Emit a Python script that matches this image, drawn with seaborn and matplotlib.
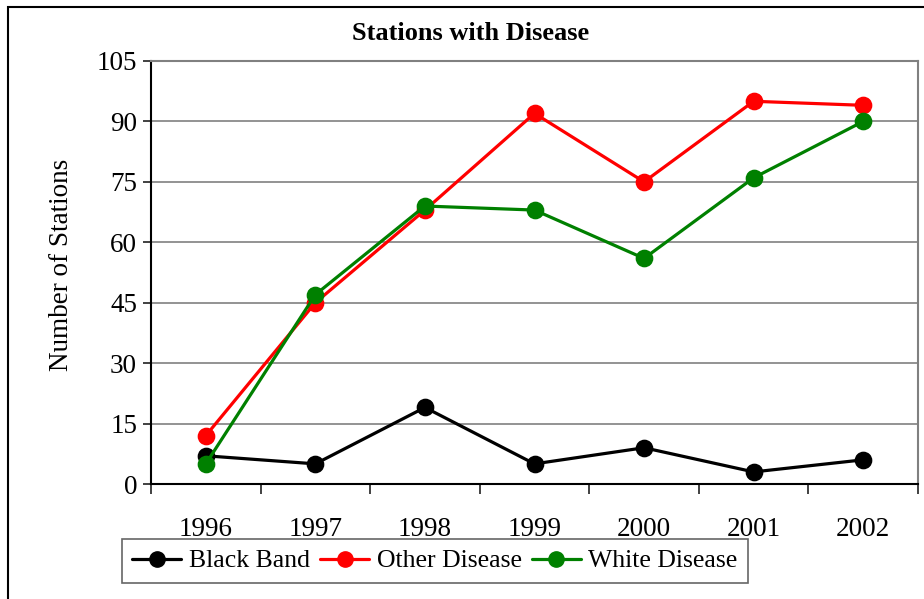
import pandas as pd
import numpy as np
import seaborn as sns
import matplotlib.pyplot as plt
from matplotlib.patches import Rectangle

# dados
anos = ['1996', '1997', '1998', '1999', '2000', '2001', '2002']
black_band = [7, 5, 19, 5, 9, 3, 6]
other_disease = [12, 45, 68, 92, 75, 95, 94]
white_disease = [5, 47, 69, 68, 56, 76, 90]
series = ['Black Band', 'Other Disease', 'White Disease']
cores = ['#000000', '#FF0000', '#008000']

df = pd.DataFrame({
    'Ano': anos * 3,
    'Estacoes': black_band + other_disease + white_disease,
    'Serie': [s for s in series for _ in anos],
})

sns.set_style('white')
plt.rcParams['font.family'] = ['Liberation Serif', 'DejaVu Serif']
plt.rcParams['text.color'] = 'black'
plt.rcParams['xtick.labelcolor'] = 'black'
plt.rcParams['ytick.labelcolor'] = 'black'

fig = plt.figure(figsize=(9.24, 5.99), dpi=100)
ax = fig.add_axes([151 / 924, 1 - 484 / 599, (918 - 151) / 924, (484 - 61) / 599])

sns.pointplot(data=df, x='Ano', y='Estacoes', hue='Serie', order=anos,
              hue_order=series, palette=cores, markers='o',
              markersize=11, linewidth=2.3, ax=ax, legend=False)

ax.set_xlim(-0.5, 6.5)
ax.set_ylim(0, 105)
ax.set_yticks(np.arange(0, 106, 15))
ax.yaxis.grid(True, color='#808080', linewidth=1.2)
ax.set_axisbelow(True)
ax.set_xlabel('')
ax.set_ylabel('')

ax.set_xticks(range(len(anos)))
ax.set_xticklabels(anos)
ax.set_xticks(np.arange(-0.5, 7, 1), minor=True)
ax.tick_params(axis='x', which='major', bottom=True, length=0, pad=24,
               labelsize=19.5, labelcolor='black')
ax.tick_params(axis='x', which='minor', bottom=True, length=7, width=1.3,
               direction='out', color='#333333')
ax.tick_params(axis='y', left=True, length=6, width=1.3, direction='out',
               labelsize=19.5, pad=4, color='#333333', labelcolor='black')

for lado in ['left', 'bottom']:
    ax.spines[lado].set_color('#000000')
    ax.spines[lado].set_linewidth(1.5)
for lado in ['top', 'right']:
    ax.spines[lado].set_color('#808080')
    ax.spines[lado].set_linewidth(1.5)

fig.text(471 / 924, 1 - 33 / 599, 'Stations with Disease', ha='center', va='center',
         fontsize=19, fontweight='bold', color='black')
fig.text(62 / 924, 1 - 265 / 599, 'Number of Stations', ha='center', va='center',
         rotation=90, fontsize=19.5, color='black')

handles = [plt.Line2D([], [], color=c, marker='o', markersize=11, linewidth=2.3)
           for c in cores]
leg = fig.legend(handles, series, loc='center', bbox_to_anchor=(435 / 924, 1 - 561 / 599),
                 ncol=3, fontsize=18.5, frameon=True, fancybox=False, borderpad=0.4,
                 handlelength=1.9, handletextpad=0.3, columnspacing=0.4, borderaxespad=0,
                 labelcolor='black')
leg.get_frame().set_edgecolor('#404040')
leg.get_frame().set_linewidth(1.2)

# moldura da figura
fig.patches.append(Rectangle((8 / 924, -0.1), 1.2, 1 - 7 / 599 + 0.1,
                             transform=fig.transFigure, fill=False,
                             edgecolor='#000000', linewidth=1.5))

fig.savefig('out.png', dpi=100)
